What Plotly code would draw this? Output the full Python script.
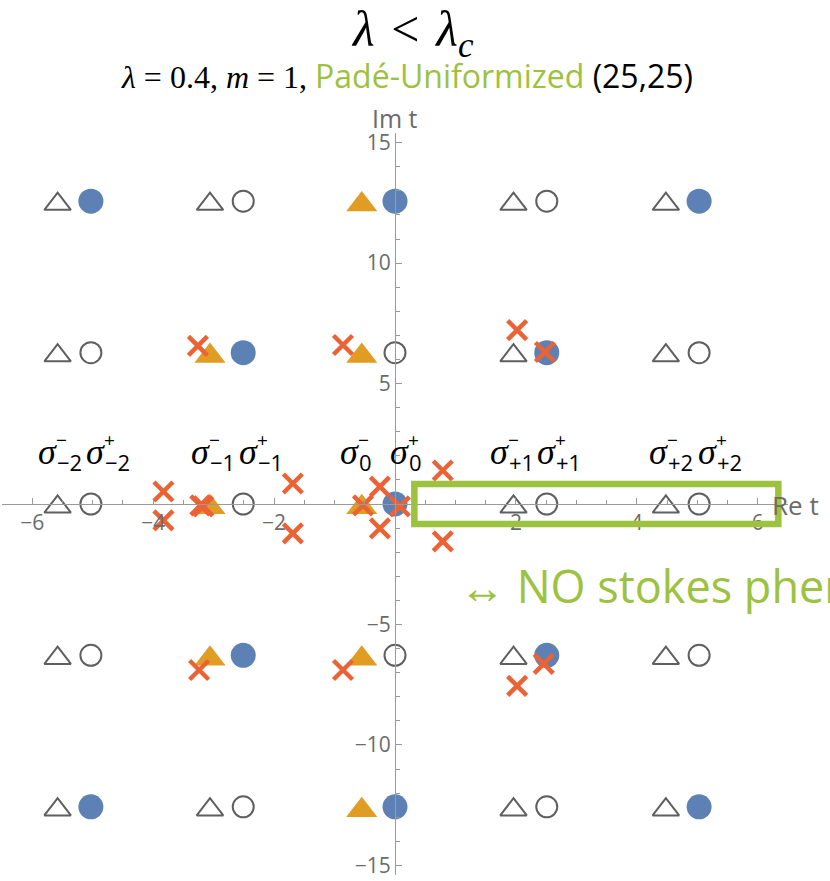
import numpy as np
import plotly.graph_objects as go

# ---- figure geometry -------------------------------------------------------
W, H = 830, 881
ML, MR, MT, MB = 2, 42, 133, 3
X_RANGE = [-6.5, 6.5]
Y_RANGE = [-15.4, 15.4]
PLOT_W = W - ML - MR
PLOT_H = H - MT - MB
PX_PER_Y = PLOT_H / (Y_RANGE[1] - Y_RANGE[0])


def paper_x(px):
    return (px - ML) / PLOT_W


def paper_y(py):
    return (H - MB - py) / PLOT_H


# ---- colours ---------------------------------------------------------------
BLUE = "#5E81B5"
ORANGE = "#E19C24"
RED = "#EB6235"
GREEN = "#9CC23F"
GREY = "#5F5F5F"
AXIS = "#9A9A9A"
TICKTXT = "#6B6B6B"

# ---- data: Borel-plane singularities ---------------------------------------
# open triangles (sigma^- saddles, not on the contour)
tri_open_x = [-5.58, -3.06, 1.96, 4.48,
              -5.58, 1.96, 4.48,
              -5.58, 1.96, 4.48,
              -5.58, 1.96, 4.48,
              -5.58, -3.06, 1.96, 4.48]
tri_open_y = [12.57, 12.57, 12.57, 12.57,
              6.28, 6.28, 6.28,
              0.0, 0.0, 0.0,
              -6.28, -6.28, -6.28,
              -12.57, -12.57, -12.57, -12.57]

# filled triangles (sigma^- saddles that contribute)
tri_fill_x = [-0.55, -3.06, -0.55, -3.06, -0.55, -3.06, -0.55, -0.55]
tri_fill_y = [12.57, 6.28, 6.28, 0.0, 0.0, -6.28, -6.28, -12.57]

# open circles (sigma^+ saddles, not on the contour)
circ_open_x = [-2.51, 2.51,
               -5.03, 0.0, 5.03,
               -5.03, -2.51, 2.51, 5.03,
               -5.03, 0.0, 5.03,
               -2.51, 2.51]
circ_open_y = [12.57, 12.57,
               6.28, 6.28, 6.28,
               0.0, 0.0, 0.0, 0.0,
               -6.28, -6.28, -6.28,
               -12.57, -12.57]

# filled circles (sigma^+ saddles that contribute)
circ_fill_x = [-5.03, 0.0, 5.03, -2.51, 2.51, 0.0, -2.51, 2.51, -5.03, 0.0, 5.03]
circ_fill_y = [12.57, 12.57, 12.57, 6.28, 6.28, 0.0, -6.28, -6.28, -12.57, -12.57, -12.57]

# Pade-Uniformized (25,25) poles
pole_x = [-3.26, -0.86, 2.02, 2.48,
          -3.24, -0.86, 2.02, 2.46,
          -3.83, -3.83, -3.17, -3.22, -1.69, -1.69,
          -0.53, -0.25, -0.25, 0.08, 0.79, 0.79]
pole_y = [6.56, 6.60, 7.22, 6.31,
          -6.89, -6.89, -7.55, -6.64,
          0.52, -0.68, -0.10, -0.06, 0.85, -1.22,
          -0.06, 0.72, -1.01, -0.10, 1.39, -1.55]

# sigma labels: left edge of each glyph, row height
sigma_minus_x = [-5.93, -3.40, -0.95, 1.53, 4.17]
sigma_plus_x = [-5.14, -2.61, -0.12, 2.32, 4.98]
sigma_index = ["−2", "−1", "0", "+1", "+2"]
sigma_y = 2.17

# highlighted strip on the positive real axis
box_x = [0.32, 6.34]
box_y = [-0.83, 0.83]

# axis ticks
x_ticks = [-6, -4, -2, 2, 4, 6]
y_ticks = [-15, -10, -5, 5, 10, 15]
x_minor = [v for v in np.arange(-6.5, 6.51, 0.5) if v != 0 and v % 2 != 0]
y_minor = [v for v in range(-15, 16) if v != 0 and v % 5 != 0]

# ---- traces -----------------------------------------------------------------
TRI_OPEN_SIZE = 23
TRI_FILL_SIZE = 27
fig = go.Figure()

fig.add_trace(go.Scatter(
    x=circ_open_x, y=circ_open_y, mode="markers", yaxis="y",
    marker=dict(symbol="circle-open", size=21, color=GREY, line=dict(width=2, color=GREY)),
    hoverinfo="skip"))
fig.add_trace(go.Scatter(
    x=circ_fill_x, y=circ_fill_y, mode="markers", yaxis="y",
    marker=dict(symbol="circle", size=25, color=BLUE, line=dict(width=0)),
    hoverinfo="skip"))
fig.add_trace(go.Scatter(
    x=tri_open_x, y=tri_open_y, mode="markers", yaxis="y2",
    marker=dict(symbol="triangle-up-open", size=TRI_OPEN_SIZE, color=GREY,
                line=dict(width=2, color=GREY)),
    hoverinfo="skip"))
fig.add_trace(go.Scatter(
    x=tri_fill_x, y=tri_fill_y, mode="markers", yaxis="y3",
    marker=dict(symbol="triangle-up", size=TRI_FILL_SIZE, color=ORANGE, line=dict(width=0)),
    hoverinfo="skip"))
fig.add_trace(go.Scatter(
    x=pole_x, y=pole_y, mode="markers", yaxis="y4",
    marker=dict(symbol="x-thin", size=19, color=RED, line=dict(width=4.5, color=RED)),
    hoverinfo="skip"))

# ---- annotations ------------------------------------------------------------
ann = []
SERIF = "Liberation Serif"
SANS = "Open Sans"
SP = "\u2004"

for xs, sign in ((sigma_minus_x, "−"), (sigma_plus_x, "+")):
    for xv, idx in zip(xs, sigma_index):
        ann.append(dict(x=xv, y=sigma_y, xref="x", yref="y", text="<i>σ</i>",
                        showarrow=False, xanchor="left", yanchor="middle",
                        font=dict(family=SERIF, size=36, color="black")))
        ann.append(dict(x=xv, y=sigma_y, xref="x", yref="y", text=sign,
                        showarrow=False, xanchor="left", yanchor="middle",
                        xshift=18, yshift=12,
                        font=dict(family=SANS, size=19, color="black")))
        ann.append(dict(x=xv, y=sigma_y, xref="x", yref="y", text=idx,
                        showarrow=False, xanchor="left", yanchor="middle",
                        xshift=19, yshift=-10,
                        font=dict(family=SANS, size=22, color="black")))

ann.append(dict(x=paper_x(412), y=paper_y(33), xref="paper", yref="paper",
                text="<i>λ</i>" + SP + "&lt;" + SP + "<i>λ</i><sub><i>c</i></sub>",
                showarrow=False, xanchor="center", yanchor="middle",
                font=dict(family=SERIF, size=50, color="black")))
ann.append(dict(x=paper_x(407), y=paper_y(75), xref="paper", yref="paper",
                text=('<i>λ</i> = 0.4, <i>m</i> = 1, '
                      '<span style="color:' + GREEN + ';font-family:Open Sans">Padé-Uniformized</span>'
                      '<span style="font-family:Open Sans"> (25,25)</span>'),
                showarrow=False, xanchor="center", yanchor="middle",
                font=dict(family=SERIF, size=32, color="black")))
ann.append(dict(x=paper_x(395), y=paper_y(118), xref="paper", yref="paper",
                text="Im t", showarrow=False, xanchor="center", yanchor="middle",
                font=dict(family=SANS, size=25, color=TICKTXT)))
ann.append(dict(x=paper_x(770), y=paper_y(507), xref="paper", yref="paper",
                text="Re t", showarrow=False, xanchor="left", yanchor="middle",
                font=dict(family=SANS, size=26, color=TICKTXT)))
ann.append(dict(x=paper_x(458), y=paper_y(587), xref="paper", yref="paper",
                text="↔ NO stokes phenomenon", showarrow=False,
                xanchor="left", yanchor="middle",
                font=dict(family=SANS, size=45, color=GREEN)))

# ---- layout -----------------------------------------------------------------
def tri_shift(size):
    # plotly's triangle marker has its bounding-box centre 0.25*r above the point
    return 0.25 * (size / 2) / PX_PER_Y


d_open = tri_shift(TRI_OPEN_SIZE)
d_fill = tri_shift(TRI_FILL_SIZE)

axis_common = dict(showgrid=False, zeroline=False, showline=True, linecolor=AXIS,
                   linewidth=1, ticks="inside", tickcolor=AXIS, tickwidth=1, ticklen=6,
                   tickfont=dict(family=SANS, size=21, color=TICKTXT),
                   ticklabeloverflow="allow",
                   anchor="free", position=0.5, layer="above traces")

fig.update_layout(
    width=W, height=H,
    margin=dict(l=ML, r=MR, t=MT, b=MB),
    paper_bgcolor="white", plot_bgcolor="white",
    showlegend=False,
    xaxis=dict(range=X_RANGE, tickmode="array", tickvals=x_ticks,
               minor=dict(tickmode="array", tickvals=x_minor, ticks="inside",
                          ticklen=4, tickcolor=AXIS, tickwidth=1),
               **axis_common),
    yaxis=dict(range=Y_RANGE, tickmode="array", tickvals=y_ticks,
               minor=dict(tickmode="array", tickvals=y_minor, ticks="inside",
                          ticklen=4, tickcolor=AXIS, tickwidth=1),
               **axis_common),
    yaxis2=dict(range=[Y_RANGE[0] + d_open, Y_RANGE[1] + d_open], overlaying="y",
                visible=False, anchor="x"),
    yaxis3=dict(range=[Y_RANGE[0] + d_fill, Y_RANGE[1] + d_fill], overlaying="y",
                visible=False, anchor="x"),
    yaxis4=dict(range=Y_RANGE, overlaying="y", visible=False, anchor="x"),
    annotations=ann,
    shapes=[dict(type="rect", xref="x", yref="y",
                 x0=box_x[0], x1=box_x[1], y0=box_y[0], y1=box_y[1],
                 line=dict(color=GREEN, width=6.5), fillcolor="rgba(0,0,0,0)",
                 layer="above")],
)

fig.write_html("out.html")
